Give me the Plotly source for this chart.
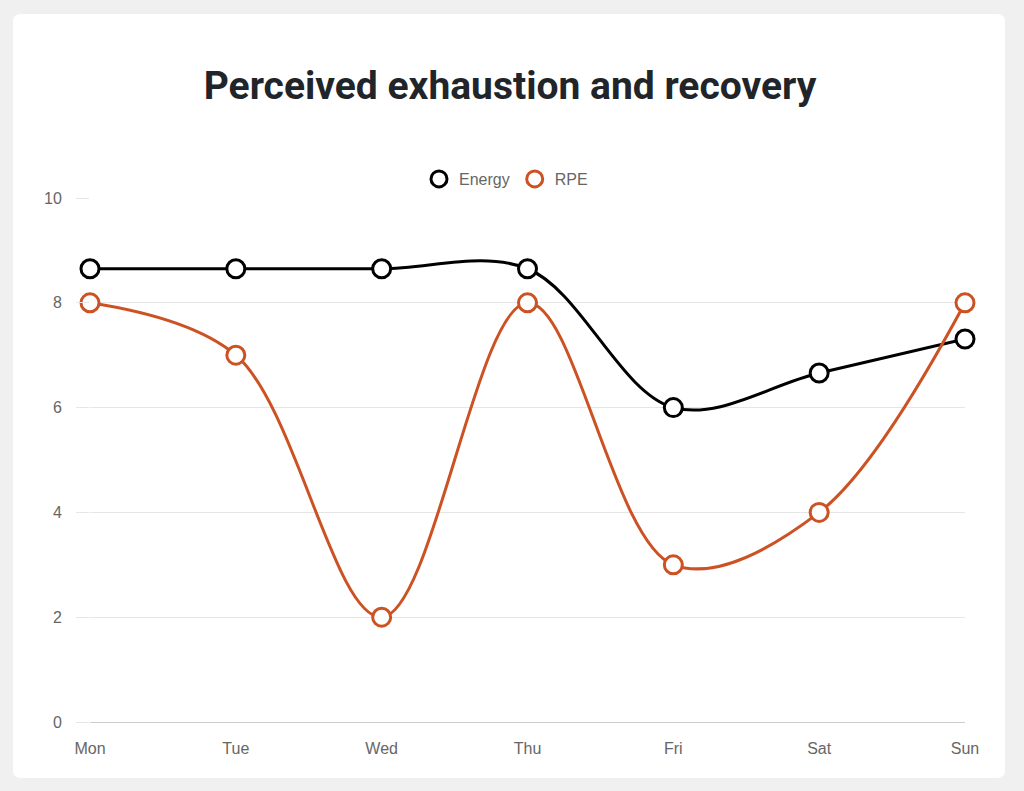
import plotly.graph_objects as go

days = ["Mon", "Tue", "Wed", "Thu", "Fri", "Sat", "Sun"]
energy = [8.65, 8.65, 8.65, 8.65, 6.0, 6.66, 7.31]
rpe = [8, 7, 2, 8, 3, 4, 8]
y_ticks = [0, 2, 4, 6, 8, 10]

BLACK = "#000000"
ORANGE = "#cc5224"
GRID = "#e6e6e6"
TICK_FONT = dict(family="Liberation Sans, Arial, sans-serif", size=16, color="#666666")

W, H = 1024, 791
L, R, T, B = 90, 59, 198, 69
pw, ph = W - L - R, H - T - B

def px(x):
    return (x - L) / pw

def py(y):
    return (H - B - y) / ph

fig = go.Figure()

for name, vals, col in [("Energy", energy, BLACK), ("RPE", rpe, ORANGE)]:
    fig.add_trace(go.Scatter(
        x=days, y=vals, mode="lines+markers", name=name, showlegend=False,
        line=dict(color=col, width=3, shape="spline", smoothing=1.0),
        marker=dict(size=18, color="white", line=dict(color=col, width=3)),
        cliponaxis=False,
    ))
    fig.add_trace(go.Scatter(
        x=[None], y=[None], mode="markers", name=name, showlegend=True,
        marker=dict(size=16, color="white", line=dict(color=col, width=3)),
    ))

# white rounded card
x0, x1 = px(13), px(1005)
y0, y1 = py(778), py(14)
rx, ry = 8 / pw, 8 / ph
path = (f"M {x0+rx},{y1} L {x1-rx},{y1} Q {x1},{y1} {x1},{y1-ry} "
        f"L {x1},{y0+ry} Q {x1},{y0} {x1-rx},{y0} "
        f"L {x0+rx},{y0} Q {x0},{y0} {x0},{y0+ry} "
        f"L {x0},{y1-ry} Q {x0},{y1} {x0+rx},{y1} Z")
fig.add_shape(type="path", path=path, xref="paper", yref="paper",
              fillcolor="white", line=dict(width=0), layer="below")

fig.update_layout(
    width=W, height=H,
    margin=dict(l=L, r=R, t=T, b=B),
    paper_bgcolor="#f0f0f0",
    plot_bgcolor="rgba(0,0,0,0)",
    title=dict(
        text="<b>Perceived exhaustion and recovery</b>",
        font=dict(family="Roboto, sans-serif", size=39, color="#212529"),
        x=px(510), xanchor="center", xref="paper",
        y=1 - 85 / H, yanchor="middle",
    ),
    legend=dict(
        orientation="h", x=px(506), xanchor="center", y=py(179), yanchor="middle",
        font=dict(family="Liberation Sans, Arial, sans-serif", size=16, color="#666666"),
        bgcolor="rgba(0,0,0,0)", itemwidth=30,
    ),
    xaxis=dict(
        type="category", range=[0, len(days) - 1],
        showgrid=False, showline=True, linecolor="#cccccc", linewidth=1,
        ticks="", tickfont=TICK_FONT, ticklabelstandoff=12,
        zeroline=False, fixedrange=True,
    ),
    yaxis=dict(
        range=[0, 10], tickvals=y_ticks,
        showgrid=True, gridcolor=GRID, gridwidth=1,
        ticks="outside", ticklen=13, tickcolor=GRID, tickwidth=1,
        tickfont=TICK_FONT, ticklabelstandoff=11,
        showline=False, zeroline=False, fixedrange=True,
    ),
    showlegend=True,
)

fig.write_html(
    "out.html",
    config={"displayModeBar": False},
    post_script="document.body.style.margin='0';document.body.style.background='#f0f0f0';document.body.style.overflow='hidden';",
)
